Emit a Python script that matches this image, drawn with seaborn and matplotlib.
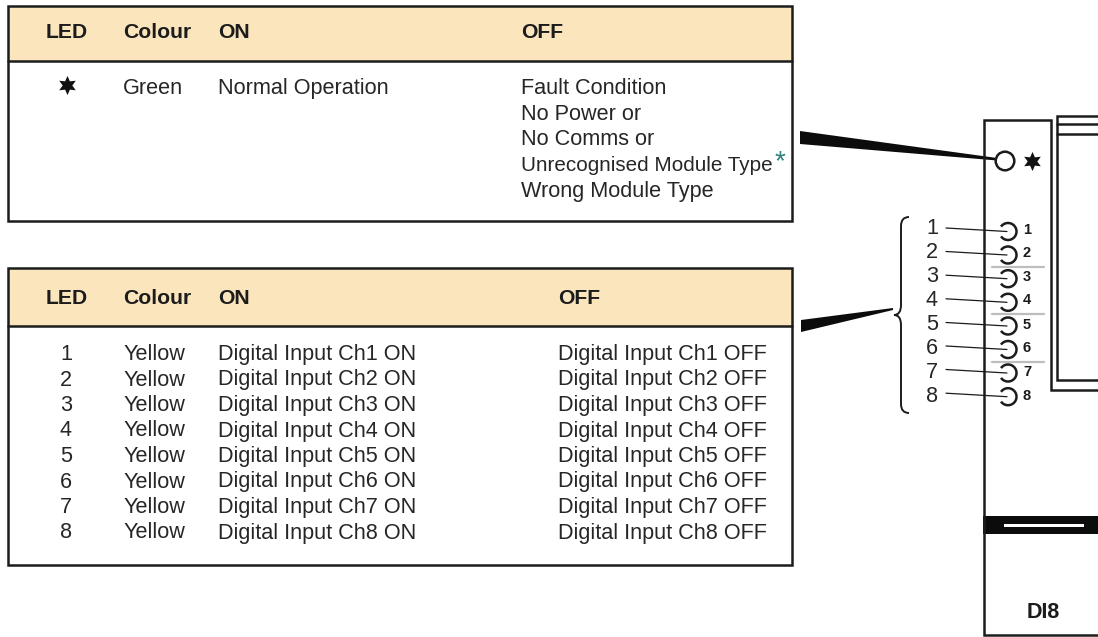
import matplotlib
matplotlib.use("Agg")
import matplotlib.pyplot as plt
from matplotlib.patches import Rectangle, Polygon, Arc, Circle, PathPatch
from matplotlib.path import Path
import seaborn as sns

# ---------- data ----------
header = ["LED", "Colour", "ON", "OFF"]
status_led = "Green"
status_on = "Normal Operation"
status_off = ["Fault Condition", "No Power or", "No Comms or",
              "Unrecognised Module Type", "Wrong Module Type"]
leds = ["1", "2", "3", "4", "5", "6", "7", "8"]
led_colours = ["Yellow"] * 8
led_on = [f"Digital Input Ch{n} ON" for n in leds]
led_off = [f"Digital Input Ch{n} OFF" for n in leds]
module_name = "DI8"

# ---------- style ----------
sns.set_theme(style="white")
plt.rcParams["font.family"] = ["Liberation Sans", "DejaVu Sans"]
INK = "#1c1c1c"
TEXT = "#262626"
HEAD = "#fbe5bc"
LW = 1.8
FS = 15.6

fig = plt.figure(figsize=(10.98, 6.37), dpi=100, facecolor="white")
ax = fig.add_axes([0, 0, 1, 1])
ax.set_xlim(0, 1098)
ax.set_ylim(637, 0)
ax.axis("off")


def label(x, y, s, ha="left", size=FS, weight="normal", color=TEXT):
    ax.text(x, y, s, ha=ha, va="baseline", fontsize=size, fontweight=weight, color=color)


def table(top, head_bottom, bottom, off_x, baseline):
    ax.add_patch(Rectangle((8, top), 784, head_bottom - top, fc=HEAD, ec="none"))
    ax.add_patch(Rectangle((8, top), 784, bottom - top, fc="none", ec=INK, lw=LW))
    ax.plot([8, 792], [head_bottom, head_bottom], color=INK, lw=LW)
    label(67, baseline, header[0], ha="center", weight="bold", color=INK, size=15.2)
    label(123, baseline, header[1], weight="bold", color=INK, size=15.2)
    label(218, baseline, header[2], weight="bold", color=INK, size=15.2)
    label(off_x, baseline, header[3], weight="bold", color=INK, size=15.2)


# table 1
table(6, 61, 221, 521, 38.5)
label(123, 94, status_led)
label(218, 94, status_on)
for y, s, fs in zip([94, 120, 145, 171, 197], status_off, [FS, FS, FS, 14.9, FS]):
    label(521, y, s, size=fs)
ax.text(779.5, 162, "*", ha="center", va="center", fontsize=20, color="#2f7f7c")

# table 2
table(268, 326, 565, 558, 304)
row_y = [360, 385.5, 411, 436.5, 462, 487.5, 513, 538.5]
for y, a, b, c, d in zip(row_y, leds, led_colours, led_on, led_off):
    label(66, y, a, ha="center")
    label(123, y, b)
    label(218, y, c)
    label(558, y, d)

# six-pointed stars
sns.scatterplot(x=[66.5, 1032], y=[85, 161], marker=(6, 1, 0), s=190,
                color="#111111", linewidth=0, ax=ax, legend=False)

# module outline
ax.plot([1098, 1051, 1051, 984, 984, 1098], [390, 390, 120, 120, 635, 635],
        color=INK, lw=LW, solid_joinstyle="miter")
ax.plot([1098, 1057, 1057, 1098], [380, 380, 116, 116], color=INK, lw=LW, solid_joinstyle="miter")
ax.plot([1057, 1098], [124, 124], color=INK, lw=LW)
ax.plot([1057, 1098], [134, 134], color=INK, lw=LW)
ax.add_patch(Rectangle((983, 516), 115, 18, fc="#0c0c0c", ec="none"))
ax.add_patch(Rectangle((1004, 523.5), 80, 3, fc="white", ec="none"))
label(1043, 618, module_name, ha="center", size=15.5, weight="bold", color=INK)

# status LED and pointers
ax.add_patch(Circle((1005, 161), 9.3, fc="none", ec=INK, lw=LW, zorder=3))
ax.add_patch(Polygon([(800, 131), (800, 144), (997, 160.5), (997, 158)], fc="#0c0c0c", ec="none"))
ax.add_patch(Polygon([(801, 320), (801, 332), (893, 310), (893, 308)], fc="#0c0c0c", ec="none"))

# separators
for y in [267, 314, 362]:
    ax.plot([992, 1044], [y, y], color="#bdbdbd", lw=1.6)

# channel LEDs
led_y = [231.5, 255, 278.7, 302.3, 326, 349.5, 373, 396.7]
big_y = [234, 258, 282, 306, 330, 354, 378, 402]
small_y = [234, 257, 281, 304, 329, 352, 376, 400]
for y, by, sy, n in zip(led_y, big_y, small_y, leds):
    ax.add_patch(Arc((1008, y), 17, 17, theta1=-145, theta2=145, ec=INK, lw=LW, zorder=3))
    ax.plot([946, 1007], [y - 3.5, y], color=INK, lw=0.9, zorder=3)
    label(932, by, n, ha="center", size=15.6)
    label(1027, sy, n, ha="center", size=10.5, weight="bold", color=INK)

# brace
verts = [(909, 217), (901, 217), (901, 226), (901, 305), (901, 315), (894, 315),
         (901, 315), (901, 325), (901, 404), (901, 413), (909, 413)]
codes = [Path.MOVETO, Path.CURVE3, Path.CURVE3, Path.LINETO, Path.CURVE3, Path.CURVE3,
         Path.CURVE3, Path.CURVE3, Path.LINETO, Path.CURVE3, Path.CURVE3]
ax.add_patch(PathPatch(Path(verts, codes), fc="none", ec=INK, lw=1.4))

fig.savefig("out.png", dpi=100)
